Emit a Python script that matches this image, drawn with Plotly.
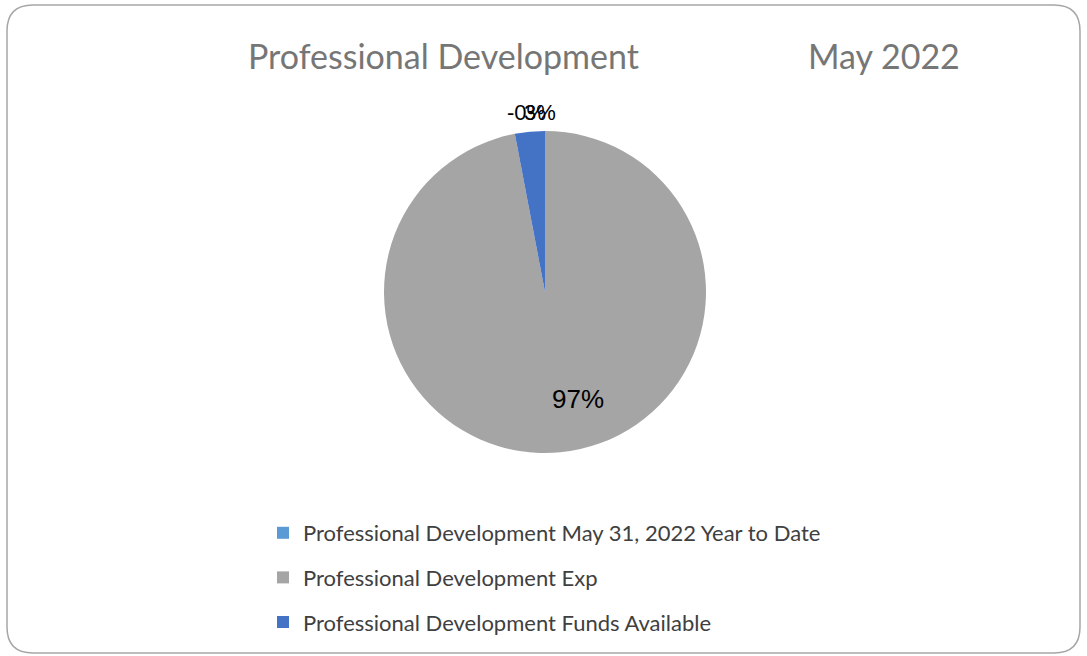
import plotly.graph_objects as go

# ---- data ----
categories = [
    "Professional Development May 31, 2022 Year to Date",
    "Professional Development Exp",
    "Professional Development Funds Available",
]
values = [0, 97, 3]
label_texts = ["-0%", "97%", "3%"]
colors = ["#5B9BD5", "#A5A5A5", "#4472C4"]
title_left = "Professional Development"
title_right = "May 2022"

W, H = 1087, 656

def px(x):
    return x / W

def py(y):
    return 1 - y / H

fig = go.Figure()

cx, cy, r = 545, 292, 161
fig.add_trace(go.Pie(
    labels=categories,
    values=values,
    textinfo="none",
    marker=dict(colors=colors, line=dict(width=0)),
    sort=False,
    direction="clockwise",
    rotation=0,
    showlegend=False,
    hoverinfo="label+percent",
    domain=dict(x=[px(cx - r), px(cx + r)], y=[py(cy + r), py(cy - r)]),
))

# legend via proxy traces
for i, (name, col) in enumerate(zip(categories, colors)):
    fig.add_trace(go.Scatter(
        x=[None], y=[None], mode="markers", name=name,
        marker=dict(symbol="square", size=11, color=col),
        legendgroup=f"g{i}", showlegend=True, hoverinfo="skip",
    ))

# rounded border
x0, y0, x1, y1, rr = 7, 5, 1080, 653, 26
path = (
    f"M {px(x0 + rr)},{py(y0)} L {px(x1 - rr)},{py(y0)} "
    f"Q {px(x1)},{py(y0)} {px(x1)},{py(y0 + rr)} "
    f"L {px(x1)},{py(y1 - rr)} Q {px(x1)},{py(y1)} {px(x1 - rr)},{py(y1)} "
    f"L {px(x0 + rr)},{py(y1)} Q {px(x0)},{py(y1)} {px(x0)},{py(y1 - rr)} "
    f"L {px(x0)},{py(y0 + rr)} Q {px(x0)},{py(y0)} {px(x0 + rr)},{py(y0)} Z"
)
fig.add_shape(type="path", path=path, xref="paper", yref="paper",
              line=dict(color="#A6A6A6", width=1.5), fillcolor="rgba(0,0,0,0)")

tfont = dict(family="Lato, Carlito, sans-serif", size=34, color="#767676")
fig.add_annotation(text=title_left, x=px(443), y=py(55), xref="paper", yref="paper",
                   showarrow=False, xanchor="center", yanchor="middle", font=tfont)
fig.add_annotation(text=title_right, x=px(884), y=py(55), xref="paper", yref="paper",
                   showarrow=False, xanchor="center", yanchor="middle", font=tfont)

# data labels (Excel places -0% and 3% on top of each other)
label_pos = [(526, 112), (578, 399), (540, 112)]
for txt, (lx, ly), fs in zip(label_texts, label_pos, [22, 26, 22]):
    fig.add_annotation(text=txt, x=px(lx), y=py(ly), xref="paper", yref="paper",
                       showarrow=False, xanchor="center", yanchor="middle",
                       font=dict(family="Liberation Sans, Arial", size=fs, color="#000000"))

fig.update_layout(
    width=W, height=H,
    margin=dict(l=0, r=0, t=0, b=0),
    paper_bgcolor="white", plot_bgcolor="white",
    xaxis=dict(visible=False), yaxis=dict(visible=False),
    legend=dict(
        x=px(263), y=py(512), xanchor="left", yanchor="top",
        font=dict(family="Lato, Carlito, sans-serif", size=22, color="#404040"),
        tracegroupgap=13, itemsizing="constant", bgcolor="rgba(0,0,0,0)",
    ),
)

fig.write_html("out.html")
